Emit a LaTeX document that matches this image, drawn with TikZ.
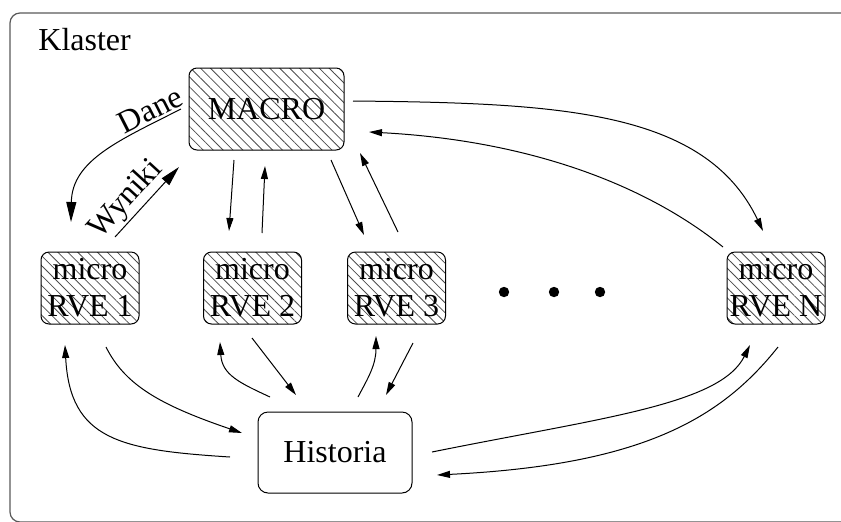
\documentclass[tikz,border=0pt]{standalone}
\usepackage{fontspec}
\setmainfont{Liberation Serif}
\usetikzlibrary{
	arrows.meta,
	patterns.meta,
	calc
}

\begin{document}
\begin{tikzpicture}[x=0.5pt, y=-0.5pt,
    every node/.style={font=\fontsize{16pt}{18.5pt}\selectfont},
    hatched/.style={draw, rounded corners=4pt, line width=0.5pt,
        pattern={Lines[angle=-45, distance=3.5pt, line width=0.4pt]}, pattern color=black!70},
    macrobox/.style={hatched, minimum width=77.5pt, minimum height=41pt},
    microbox/.style={hatched, align=center, inner sep=1pt, minimum width=49pt, minimum height=36pt},
    histbox/.style={draw, rounded corners=5pt, line width=0.5pt, minimum width=77pt, minimum height=40.5pt},
    arr/.style={line width=0.5pt, -{Triangle[length=6.5pt, width=3.5pt]}},
    bigarr/.style={line width=0.5pt, -{Triangle[length=10pt, width=5pt]}},
    lbl/.style={sloped, above, inner sep=1pt}
]
    % Frame
    \clip (0,0) rectangle (841,521);
    \draw[black!65, line width=0.6pt, rounded corners=5pt] (10,13) rectangle (880,522);
    \node[anchor=base west, inner sep=0pt] (klaster) at (38,50) {Klaster};
    % Boxes
    \node[macrobox]  (macro) at (266.5,109) {MACRO};
    \node[microbox]  (rve1)  at (90,288)    {micro\\RVE 1};
    \node[microbox]  (rve2)  at (252.5,288) {micro\\RVE 2};
    \node[microbox]  (rve3)  at (396.5,288) {micro\\RVE 3};
    \node[microbox]  (rveN)  at (776,288)   {micro\\RVE N};
    \node[histbox]   (hist)  at (335,452.5) {Historia};
    % Dots
    \fill (504,292) circle[radius=2.6pt];
    \fill (554,292) circle[radius=2.6pt];
    \fill (600,292) circle[radius=2.6pt];
    % MACRO <-> micro
    \draw[bigarr] ($(macro)+(-85.5,0)$) .. controls (120,140) and (72,160) .. ($(rve1)+(-19,-66)$)
        node[lbl, pos=0.14] {Dane};
    \draw[bigarr] ($(rve1)+(25,-51)$) -- ($(macro)+(-87.5,58)$)
        node[lbl, pos=0.37] {Wyniki};
    \draw[arr] ($(macro)+(-32.5,51)$) -- ($(rve2)+(-23.5,-57)$);
    \draw[arr] ($(rve2)+(9.5,-55)$)   -- ($(macro)+(-1.5,57)$);
    \draw[arr] ($(macro)+(64.5,51)$)  -- ($(rve3)+(-32.5,-53)$);
    \draw[arr] ($(rve3)+(1.5,-56)$)   -- ($(macro)+(93.5,44)$);
    \draw[arr] ($(macro)+(86.5,-8)$) .. controls (560,103) and (705,110) .. ($(rveN)+(-13,-57)$);
    \draw[arr] ($(rveN)+(-53,-41)$) .. controls (640,180) and (520,140) .. ($(macro)+(102.5,23)$);
    % micro <-> Historia
    \draw[arr] ($(hist)+(-105,4.5)$) .. controls (120,450) and (70,440) .. ($(rve1)+(-25,57)$);
    \draw[arr] ($(rve1)+(16,59)$) .. controls (125,385) and (160,405) .. ($(hist)+(-93,-19.5)$);
    \draw[arr] ($(hist)+(-65,-55.5)$) .. controls (240,383) and (222,375) .. ($(rve2)+(-32.5,54)$);
    \draw[arr] ($(rve2)+(-0.5,50)$) -- ($(hist)+(-39,-57.5)$);
    \draw[arr] ($(hist)+(23,-55.5)$) .. controls (368,378) and (376,365) .. ($(rve3)+(-20.5,48)$);
    \draw[arr] ($(rve3)+(16.5,55)$) -- ($(hist)+(51,-57.5)$);
    \draw[arr] ($(hist)+(97,-0.5)$) .. controls (600,418) and (720,405) .. ($(rveN)+(-26,57)$);
    \draw[arr] ($(rveN)+(2,59)$) .. controls (720,420) and (640,465) .. ($(hist)+(102,22.5)$);
\end{tikzpicture}
\end{document}
